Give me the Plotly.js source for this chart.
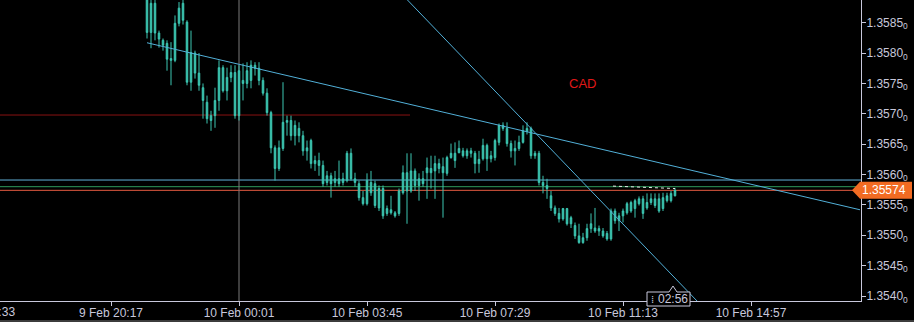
<!DOCTYPE html>
<html><head><meta charset="utf-8">
<script src="https://cdn.plot.ly/plotly-3.0.1.min.js"></script>
<style>html,body{margin:0;padding:0;background:#000;}#chart{width:914px;height:322px;}</style>
</head><body><div id="chart"></div>
<script>
// USDCAD-style candles (bar index 0 = first visible bar)
const opens = [1.35895,1.35834,1.35882,1.35833,1.35821,1.35816,1.35791,1.35788,1.35849,1.35882,
1.35851,1.35752,1.35800,1.35767,1.35743,1.35719,1.35697,1.35697,1.35722,1.35776,
1.35738,1.35760,1.35768,1.35697,1.35755,1.35750,1.35755,1.35780,1.35775,1.35755,
1.35734,1.35702,1.35644,1.35610,1.35643,1.35686,1.35689,1.35664,1.35676,1.35664,
1.35639,1.35656,1.35618,1.35623,1.35615,1.35587,1.35598,1.35587,1.35593,1.35587,
1.35590,1.35635,1.35593,1.35585,1.35562,1.35552,1.35587,1.35585,1.35545,1.35577,
1.35536,1.35542,1.35537,1.35536,1.35570,1.35603,1.35573,1.35606,1.35582,1.35593,
1.35603,1.35610,1.35606,1.35610,1.35613,1.35602,1.35628,1.35635,1.35636,1.35639,
1.35631,1.35635,1.35635,1.35618,1.35626,1.35648,1.35626,1.35628,1.35653,1.35681,
1.35676,1.35651,1.35639,1.35643,1.35653,1.35671,1.35676,1.35631,1.35635,1.35587,
1.35582,1.35565,1.35545,1.35536,1.35527,1.35544,1.35519,1.35516,1.35499,1.35488,
1.35496,1.35511,1.35512,1.35507,1.35507,1.35503,1.35494,1.35540,1.35524,1.35532,
1.35537,1.35540,1.35544,1.35552,1.35560,1.35545,1.35554,1.35560,1.35540,1.35544,
1.35557,1.35557,1.35565];
const highs = [1.35912,1.35900,1.35892,1.35837,1.35824,1.35821,1.35818,1.35862,1.35884,1.35907,
1.35854,1.35837,1.35804,1.35800,1.35750,1.35730,1.35705,1.35743,1.35788,1.35780,
1.35776,1.35780,1.35780,1.35780,1.35783,1.35785,1.35788,1.35785,1.35785,1.35760,
1.35742,1.35705,1.35648,1.35656,1.35752,1.35697,1.35697,1.35689,1.35686,1.35672,
1.35656,1.35659,1.35631,1.35636,1.35623,1.35606,1.35603,1.35606,1.35623,1.35603,
1.35639,1.35643,1.35603,1.35590,1.35573,1.35602,1.35606,1.35590,1.35582,1.35582,
1.35549,1.35565,1.35540,1.35577,1.35615,1.35635,1.35635,1.35610,1.35602,1.35606,
1.35628,1.35631,1.35631,1.35626,1.35628,1.35631,1.35651,1.35653,1.35656,1.35644,
1.35643,1.35644,1.35639,1.35639,1.35659,1.35651,1.35639,1.35659,1.35684,1.35686,
1.35686,1.35656,1.35656,1.35664,1.35681,1.35686,1.35679,1.35639,1.35639,1.35598,
1.35593,1.35573,1.35549,1.35545,1.35545,1.35545,1.35532,1.35521,1.35519,1.35504,
1.35519,1.35536,1.35545,1.35516,1.35512,1.35507,1.35544,1.35544,1.35537,1.35544,
1.35555,1.35557,1.35560,1.35564,1.35565,1.35569,1.35569,1.35569,1.35569,1.35570,
1.35570,1.35573,1.35578];
const lows = [1.35824,1.35808,1.35821,1.35809,1.35804,1.35771,1.35747,1.35785,1.35844,1.35847,
1.35747,1.35738,1.35758,1.35738,1.35692,1.35684,1.35672,1.35677,1.35705,1.35735,
1.35722,1.35752,1.35692,1.35689,1.35722,1.35742,1.35742,1.35763,1.35747,1.35730,
1.35697,1.35635,1.35590,1.35606,1.35639,1.35664,1.35656,1.35648,1.35653,1.35631,
1.35623,1.35610,1.35606,1.35598,1.35580,1.35582,1.35562,1.35580,1.35580,1.35582,
1.35587,1.35590,1.35580,1.35557,1.35549,1.35549,1.35565,1.35545,1.35540,1.35527,
1.35532,1.35534,1.35529,1.35532,1.35567,1.35519,1.35570,1.35573,1.35557,1.35580,
1.35560,1.35577,1.35560,1.35602,1.35529,1.35598,1.35626,1.35611,1.35635,1.35628,
1.35626,1.35628,1.35602,1.35603,1.35623,1.35606,1.35620,1.35623,1.35648,1.35672,
1.35646,1.35628,1.35615,1.35639,1.35651,1.35666,1.35626,1.35626,1.35582,1.35569,
1.35560,1.35540,1.35532,1.35521,1.35524,1.35516,1.35512,1.35494,1.35486,1.35486,
1.35491,1.35504,1.35504,1.35499,1.35496,1.35491,1.35491,1.35519,1.35507,1.35521,
1.35534,1.35537,1.35529,1.35549,1.35527,1.35542,1.35550,1.35545,1.35537,1.35540,
1.35554,1.35554,1.35564];
const closes = [1.35834,1.35882,1.35833,1.35823,1.35813,1.35790,1.35788,1.35849,1.35874,1.35854,
1.35752,1.35801,1.35767,1.35747,1.35722,1.35692,1.35689,1.35722,1.35776,1.35738,
1.35760,1.35768,1.35697,1.35771,1.35750,1.35771,1.35780,1.35775,1.35755,1.35734,
1.35702,1.35644,1.35610,1.35644,1.35686,1.35689,1.35664,1.35681,1.35664,1.35639,
1.35644,1.35618,1.35623,1.35615,1.35585,1.35598,1.35585,1.35593,1.35585,1.35593,
1.35635,1.35593,1.35587,1.35562,1.35552,1.35590,1.35570,1.35549,1.35577,1.35532,
1.35544,1.35537,1.35532,1.35573,1.35603,1.35573,1.35606,1.35582,1.35593,1.35585,
1.35611,1.35603,1.35618,1.35618,1.35603,1.35628,1.35635,1.35623,1.35643,1.35631,
1.35639,1.35639,1.35618,1.35625,1.35648,1.35626,1.35631,1.35656,1.35681,1.35676,
1.35651,1.35639,1.35643,1.35653,1.35672,1.35676,1.35631,1.35635,1.35587,1.35582,
1.35577,1.35545,1.35536,1.35527,1.35544,1.35519,1.35529,1.35499,1.35488,1.35496,
1.35511,1.35519,1.35507,1.35511,1.35499,1.35494,1.35540,1.35524,1.35532,1.35540,
1.35552,1.35554,1.35557,1.35560,1.35536,1.35554,1.35560,1.35549,1.35560,1.35562,
1.35565,1.35569,1.35574];

const xTickIdx = [-9, 23, 55, 87, 119, 151];
const xTickText = ['9 Feb 20:17', '10 Feb 00:01', '10 Feb 03:45', '10 Feb 07:29', '10 Feb 11:13', '10 Feb 14:57'];
const xClippedIdx = -41;
const xClippedText = '9 Feb 16:33';
const yTickVals = [1.3540, 1.3545, 1.3550, 1.3555, 1.3560, 1.3565, 1.3570, 1.3575, 1.3580, 1.3585];
const yTickText = yTickVals.map(v => v.toFixed(4) + '<sub>0</sub>');

const levelBlue = 1.35591, levelGreen = 1.35580, levelBid = 1.35574, levelDarkRed = 1.35698;
const darkRedEndIdx = 65.75;
const trend1X = [0, 178.25], trend1Y = [1.35817, 1.35542];
const trend2X = [60.35, 142.3], trend2Y = [1.35920, 1.35359];
const trailX = [116.5, 132], trailY = [1.35581, 1.35577];
const separatorIdx = 23;
const labelX = 108.9, labelY = 1.35750, labelText = 'CAD';
const timerText = '02:56';

const xRange = [-36.75, 178.5];
const yRange = [1.353918, 1.358874];

const W = 861, H = 301;
const PX = x => x / W;
const PY = y => (H - y) / H;
const priceToPaper = p => (p - yRange[0]) / (yRange[1] - yRange[0]);

const teal = '#3cc6b2';
const xs = closes.map((_, i) => i);

const trace = {
  type: 'candlestick', x: xs, open: opens, high: highs, low: lows, close: closes,
  increasing: {line: {color: teal, width: 1}, fillcolor: teal},
  decreasing: {line: {color: teal, width: 1}, fillcolor: teal},
  whiskerwidth: 0, hoverinfo: 'skip', showlegend: false
};

const fontFam = 'Liberation Sans, Arial, sans-serif';
const axisCol = '#c8c8dc';

const yc = priceToPaper(levelBid), th = 8.5 / H;
const shapes = [
  {type:'line', layer:'below', xref:'paper', yref:'y', x0:0, x1:1, y0:levelBlue, y1:levelBlue, line:{color:'#62b2da', width:1}},
  {type:'line', layer:'below', xref:'paper', yref:'y', x0:0, x1:1, y0:levelGreen, y1:levelGreen, line:{color:'#2f9a5c', width:1}},
  {type:'line', layer:'below', xref:'paper', yref:'y', x0:0, x1:1, y0:levelBid, y1:levelBid, line:{color:'#e25a40', width:1}},
  {type:'line', layer:'below', xref:'x', yref:'y', x0:xRange[0], x1:darkRedEndIdx, y0:levelDarkRed, y1:levelDarkRed, line:{color:'#8a1212', width:1}},
  {type:'line', layer:'below', xref:'x', yref:'paper', x0:separatorIdx, x1:separatorIdx, y0:0, y1:1, line:{color:'#7a7a7a', width:1}},
  {type:'line', layer:'above', xref:'x', yref:'y', x0:trend1X[0], x1:trend1X[1], y0:trend1Y[0], y1:trend1Y[1], line:{color:'#52b0d8', width:1}},
  {type:'line', layer:'above', xref:'x', yref:'y', x0:trend2X[0], x1:trend2X[1], y0:trend2Y[0], y1:trend2Y[1], line:{color:'#52b0d8', width:1}},
  {type:'line', layer:'above', xref:'x', yref:'y', x0:trailX[0], x1:trailX[1], y0:trailY[0], y1:trailY[1], line:{color:'#e8e8e8', width:1, dash:'dot'}},
  {type:'path', layer:'above', xref:'paper', yref:'paper',
   path:`M ${PX(852)},${yc} L ${PX(860)},${yc+th} L ${PX(912)},${yc+th} L ${PX(912)},${yc-th} L ${PX(860)},${yc-th} Z`,
   fillcolor:'#f26b22', line:{width:0}},
  {type:'path', layer:'above', xref:'paper', yref:'paper',
   path:`M ${PX(647)},${PY(292)} L ${PX(669)},${PY(292)} L ${PX(673)},${PY(286)} L ${PX(677)},${PY(292)} L ${PX(690)},${PY(292)} L ${PX(690)},${PY(306)} L ${PX(647)},${PY(306)} Z`,
   fillcolor:'#000000', line:{color:axisCol, width:1}},
  {type:'rect', layer:'above', xref:'paper', yref:'paper', x0:0, x1:914/W, y0:PY(320), y1:PY(323), fillcolor:'#3c3c3c', line:{width:0}}
];

const ann = (o) => Object.assign({showarrow:false, xanchor:'center', yanchor:'middle'}, o);
const annotations = [
  ann({xref:'x', yref:'y', x:labelX, y:labelY, text:labelText, font:{family:fontFam, size:13, color:'#e01818'}}),
  ann({xref:'paper', yref:'y', x:PX(884), y:levelBid, text:levelBid.toFixed(5), font:{family:fontFam, size:12, color:'#ffffff'}}),
  ann({xref:'paper', yref:'paper', x:PX(673), y:PY(299), text:timerText, font:{family:fontFam, size:12, color:axisCol}}),
  ann({xref:'paper', yref:'paper', x:PX(652), y:PY(299), text:'⁞', font:{family:'DejaVu Sans', size:10, color:axisCol}}),
  ann({xref:'paper', yref:'paper', x:(xClippedIdx - xRange[0]) / (xRange[1] - xRange[0]), y:PY(312), text:xClippedText, font:{family:fontFam, size:12, color:axisCol}})
];

const layout = {
  width: 914, height: 322,
  margin: {l:0, r:53, t:0, b:21, pad:0},
  paper_bgcolor: '#000', plot_bgcolor: '#000',
  boxgap: 0.45,
  showlegend: false,
  font: {family: fontFam, size: 12, color: axisCol},
  xaxis: {
    range: xRange, rangeslider: {visible: false}, showgrid: false, zeroline: false,
    tickmode: 'array', tickvals: xTickIdx, ticktext: xTickText,
    ticks: 'outside', ticklen: 4, tickcolor: axisCol, showline: true, linecolor: axisCol, linewidth: 1,
    ticklabelstandoff: -3,
    tickfont: {family: fontFam, size: 12, color: axisCol}, fixedrange: true
  },
  yaxis: {
    range: yRange, side: 'right', showgrid: false, zeroline: false,
    tickmode: 'array', tickvals: yTickVals, ticktext: yTickText,
    ticks: 'outside', ticklen: 4, tickcolor: axisCol, showline: true, linecolor: axisCol, linewidth: 1,
    ticklabelstandoff: -2,
    tickfont: {family: fontFam, size: 12, color: axisCol}, fixedrange: true
  },
  shapes: shapes,
  annotations: annotations
};

Plotly.newPlot('chart', [trace], layout, {staticPlot: true, displayModeBar: false});
</script>
</body></html>
